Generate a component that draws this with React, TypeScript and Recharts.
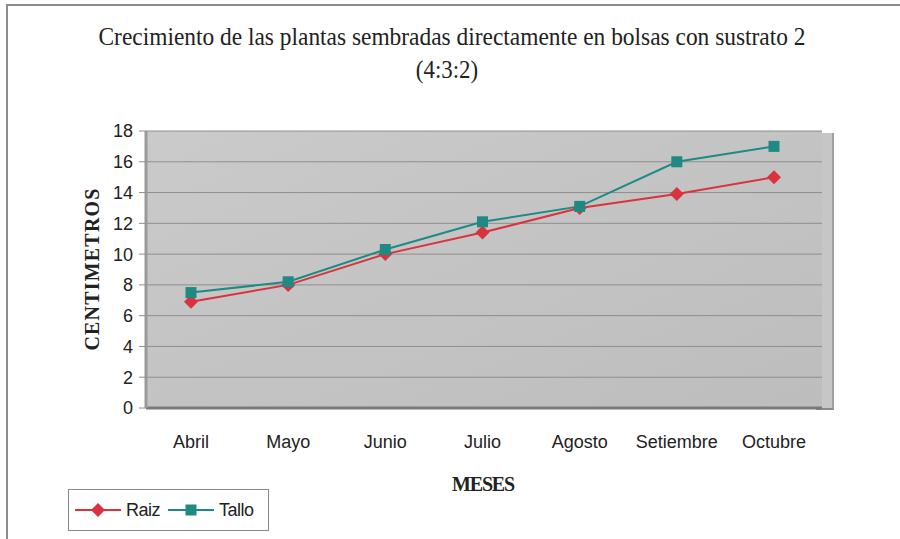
import React from "react";
import { LineChart, Line, XAxis, YAxis, CartesianGrid, Legend } from "recharts";

const months = ["Abril", "Mayo", "Junio", "Julio", "Agosto", "Setiembre", "Octubre"];
const raiz = [6.9, 8.0, 10.0, 11.4, 13.0, 13.9, 15.0];
const tallo = [7.5, 8.2, 10.3, 12.1, 13.1, 16.0, 17.0];
const yTicks = [0, 2, 4, 6, 8, 10, 12, 14, 16, 18];

const data = months.map((m, i) => ({ mes: m, Raiz: raiz[i], Tallo: tallo[i] }));

const RED = "#d9333e";
const TEAL = "#1f8a84";
const SANS = "'Liberation Sans', Arial, sans-serif";
const SERIF = "'Liberation Serif', 'Times New Roman', serif";

const Diamond = (props: any) => {
  const { cx, cy } = props;
  if (cx == null || cy == null) return null;
  return <path d={`M${cx},${cy - 7} L${cx + 7},${cy} L${cx},${cy + 7} L${cx - 7},${cy} Z`} fill={RED} />;
};

const Square = (props: any) => {
  const { cx, cy } = props;
  if (cx == null || cy == null) return null;
  return <rect x={cx - 5.5} y={cy - 5.5} width={11} height={11} fill={TEAL} />;
};

const renderLegend = (props: any) => {
  const items = props.payload || [];
  return (
    <div
      style={{
        display: "flex",
        alignItems: "center",
        border: "1px solid #8a8a8a",
        background: "#fff",
        height: 40,
        padding: "0 8px 0 4px",
        fontFamily: SANS,
        fontSize: 18,
        color: "#222",
        letterSpacing: -0.5,
      }}
    >
      {items.map((it: any) => (
        <span key={it.value} style={{ display: "flex", alignItems: "center", marginRight: 6 }}>
          <svg width={50} height={16}>
            <line x1={2} y1={8} x2={48} y2={8} stroke={it.color} strokeWidth={2} />
            {it.value === "Raiz" ? (
              <path d="M25,1 L32,8 L25,15 L18,8 Z" fill={it.color} />
            ) : (
              <rect x={19.5} y={2.5} width={11} height={11} fill={it.color} />
            )}
          </svg>
          <span style={{ marginLeft: 3 }}>{it.value}</span>
        </span>
      ))}
    </div>
  );
};

export default function App() {
  return (
    <div style={{ position: "absolute", left: 0, top: 0, width: 900, height: 539, background: "#fff", overflow: "hidden" }}>
      <div style={{ position: "absolute", left: 6, top: 4, width: 900, height: 560, borderLeft: "2px solid #8c8c8c", borderTop: "2px solid #8c8c8c" }} />
      <div style={{ position: "absolute", left: 816, top: 133, width: 16, height: 275, background: "#c6c6c6", borderRight: "2px solid #a0a0a0", borderBottom: "2px solid #8a8a8a" }} />
      <div
        style={{
          position: "absolute",
          left: 452,
          top: 37,
          transform: "translate(-50%, -50%) scaleX(0.9)",
          fontFamily: SERIF,
          fontSize: 26,
          color: "#222",
          whiteSpace: "nowrap",
        }}
      >
        Crecimiento de las plantas sembradas directamente en bolsas con sustrato 2
      </div>
      <div
        style={{
          position: "absolute",
          left: 447,
          top: 70,
          transform: "translate(-50%, -50%) scaleX(0.88)",
          fontFamily: SERIF,
          fontSize: 26,
          color: "#222",
          whiteSpace: "nowrap",
        }}
      >
        (4:3:2)
      </div>
      <div
        style={{
          position: "absolute",
          left: 92,
          top: 269,
          transform: "translate(-50%, -50%) rotate(-90deg)",
          fontFamily: SERIF,
          fontWeight: "bold",
          fontSize: 20,
          color: "#222",
          whiteSpace: "nowrap",
          letterSpacing: 1.2,
        }}
      >
        CENTIMETROS
      </div>
      <div
        style={{
          position: "absolute",
          left: 483,
          top: 484,
          transform: "translate(-50%, -50%)",
          fontFamily: SERIF,
          fontWeight: "bold",
          fontSize: 20,
          color: "#222",
          letterSpacing: -1.2,
        }}
      >
        MESES
      </div>
      <div style={{ position: "absolute", left: 0, top: 0 }}>
        <LineChart width={900} height={539} data={data} margin={{ top: 131, right: 78, bottom: 101, left: 0 }}>
          <defs>
            <linearGradient id="bg" x1="0" y1="0" x2="1" y2="1">
              <stop offset="0%" stopColor="#cacaca" />
              <stop offset="100%" stopColor="#bdbdbd" />
            </linearGradient>
          </defs>
          <CartesianGrid vertical={false} stroke="#8e8e8e" fill="url(#bg)" fillOpacity={1} />
          <XAxis
            dataKey="mes"
            height={30}
            padding={{ left: 45, right: 48 }}
            axisLine={{ stroke: "#7a7a7a", strokeWidth: 3 }}
            tickLine={false}
            tickMargin={21}
            tick={{ fontFamily: SANS, fontSize: 18, fill: "#222" }}
          />
          <YAxis
            width={146}
            domain={[0, 18]}
            ticks={yTicks}
            interval={0}
            axisLine={{ stroke: "#9a9a9a", strokeWidth: 3 }}
            tickLine={{ stroke: "#8e8e8e" }}
            tickSize={7}
            tickMargin={6}
            tick={{ fontFamily: SANS, fontSize: 18, fill: "#222" }}
          />
          <Line dataKey="Raiz" stroke={RED} strokeWidth={2} dot={<Diamond />} activeDot={false} isAnimationActive={false} />
          <Line dataKey="Tallo" stroke={TEAL} strokeWidth={2} dot={<Square />} activeDot={false} isAnimationActive={false} />
          <Legend
            layout="horizontal"
            align="center"
            verticalAlign="middle"
            content={renderLegend}
            wrapperStyle={{ position: "absolute", left: 68, top: 489, width: "auto", height: "auto" }}
          />
        </LineChart>
      </div>
    </div>
  );
}
